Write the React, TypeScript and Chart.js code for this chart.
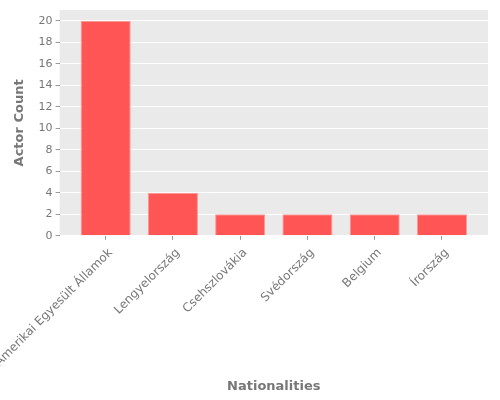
import React, { useEffect, useRef } from "react";
import { Chart, registerables } from "chart.js";

Chart.register(...registerables);

const nationalities = [
  "Amerikai Egyesült Államok",
  "Lengyelország",
  "Csehszlovákia",
  "Svédország",
  "Belgium",
  "Írország",
];
const actorCounts = [20, 4, 2, 2, 2, 2];
const yTicks = [0, 2, 4, 6, 8, 10, 12, 14, 16, 18, 20];

// grey panel behind the plot area, ggplot style
const panelBackground = {
  id: "panelBackground",
  beforeDraw(chart: any) {
    const { ctx, chartArea } = chart;
    ctx.save();
    ctx.fillStyle = "#EAEAEA";
    ctx.fillRect(chartArea.left, chartArea.top, chartArea.right - chartArea.left, chartArea.bottom - chartArea.top);
    ctx.restore();
  },
};

const App = () => {
  const canvasRef = useRef<HTMLCanvasElement>(null);
  const chartRef = useRef<Chart | null>(null);

  useEffect(() => {
    if (!canvasRef.current) return;
    if (chartRef.current) chartRef.current.destroy();

    const tickFont = { family: "DejaVu Sans", size: 11 };
    const titleFont = { family: "DejaVu Sans", size: 13, weight: "bold" as const };

    chartRef.current = new Chart(canvasRef.current, {
      type: "bar",
      data: {
        datasets: [
          {
            label: "Actor Count",
            // bars sit at integer positions on a numeric x axis, one per nationality
            data: actorCounts.map((count, i) => ({ x: i, y: count })),
            backgroundColor: "#FF5555",
            borderColor: "#F99A9A",
            borderWidth: 1,
            barPercentage: 0.745,
            categoryPercentage: 1,
          },
        ],
      },
      options: {
        responsive: true,
        maintainAspectRatio: false,
        animation: false,
        layout: { padding: { left: 12, right: 12, top: 10, bottom: 6 } },
        plugins: {
          legend: { display: false },
          tooltip: { enabled: false },
        },
        scales: {
          x: {
            type: "linear",
            min: -0.685,
            max: nationalities.length - 1 + 0.685,
            offset: false,
            border: { display: false },
            afterBuildTicks: (scale: any) => {
              scale.ticks = nationalities.map((_, i) => ({ value: i }));
            },
            // let the long first label run off the left edge instead of squeezing the plot
            afterFit: (scale: any) => {
              scale.paddingLeft = 0;
            },
            grid: {
              display: true,
              offset: false,
              drawOnChartArea: false,
              drawTicks: true,
              tickColor: "#999999",
              tickLength: 4,
            },
            ticks: {
              color: "#777777",
              font: { family: "DejaVu Sans", size: 12 },
              maxRotation: 45,
              minRotation: 45,
              autoSkip: false,
              padding: 6,
              labelOffset: 5,
              callback: (value: any) => nationalities[value] ?? "",
            },
            title: {
              display: true,
              text: "Nationalities",
              color: "#777777",
              font: titleFont,
              padding: { top: 3, bottom: 0 },
            },
          },
          y: {
            min: 0,
            max: 21,
            border: { display: false },
            afterBuildTicks: (scale: any) => {
              scale.ticks = yTicks.map((v) => ({ value: v }));
            },
            grid: {
              color: "#FFFFFF",
              lineWidth: 1,
              tickColor: "#999999",
              tickLength: 4,
            },
            ticks: {
              color: "#777777",
              font: tickFont,
              padding: 3,
            },
            title: {
              display: true,
              text: "Actor Count",
              color: "#777777",
              font: titleFont,
              padding: { top: 0, bottom: 8 },
            },
          },
        },
      },
      plugins: [panelBackground],
    });

    return () => {
      if (chartRef.current) {
        chartRef.current.destroy();
        chartRef.current = null;
      }
    };
  }, []);

  return (
    <div style={{ position: "fixed", left: 0, top: 0, width: 500, height: 400 }}>
      <canvas ref={canvasRef} />
    </div>
  );
};

export default App;
